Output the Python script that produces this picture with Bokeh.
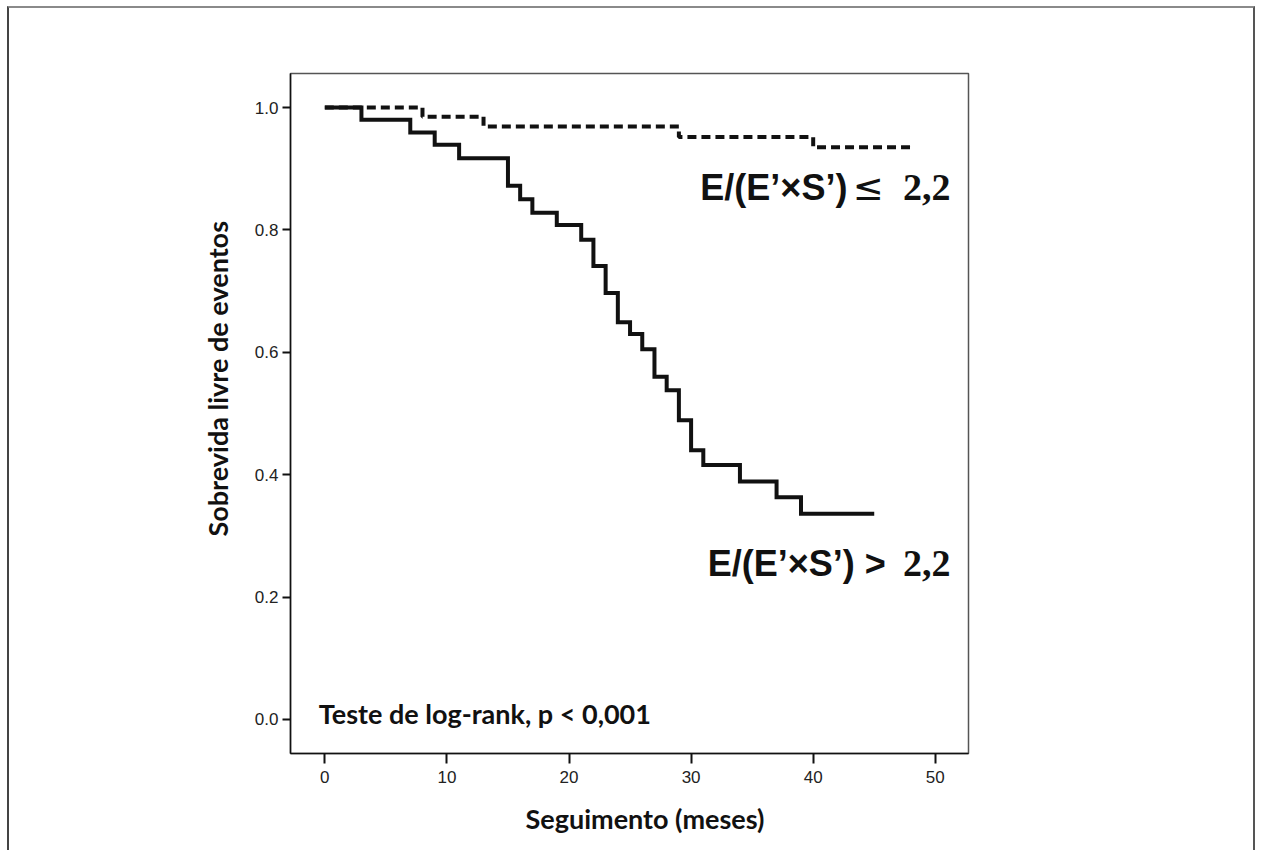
import math
from bokeh.plotting import figure
from bokeh.models import Label, FixedTicker, NumeralTickFormatter, Range1d, Title
from bokeh.embed import file_html
from bokeh.resources import INLINE

# ---- data ----
high_time = [0, 3, 7, 9, 11, 15, 16, 17, 19, 21, 22, 23, 24, 25, 26, 27, 28, 29, 30, 31, 34, 37, 39, 45]
high_surv = [1.0, 0.980, 0.959, 0.939, 0.917, 0.872, 0.850, 0.828, 0.808, 0.784, 0.741, 0.697,
             0.649, 0.630, 0.605, 0.560, 0.538, 0.489, 0.440, 0.416, 0.389, 0.363, 0.336, 0.336]
low_time = [0, 8, 13, 29, 40, 48]
low_surv = [1.0, 0.985, 0.969, 0.952, 0.935, 0.935]

x_ticks = [0, 10, 20, 30, 40, 50]
y_ticks = [0.0, 0.2, 0.4, 0.6, 0.8, 1.0]

label_sans = "E/(E\u2019\u00d7S\u2019)"
label_le = "\u2264"
label_gt = "E/(E\u2019\u00d7S\u2019) >"
label_num = "2,2"
test_text = "Teste de log-rank, p < 0,001"
x_title = "Seguimento (meses)"
y_title = "Sobrevida livre de eventos"

p = figure(width=1248, height=844, output_backend="svg", toolbar_location=None,
           x_range=Range1d(-2.81, 52.72), y_range=Range1d(-0.0556, 1.0556),
           min_border_left=281, min_border_right=289, min_border_top=65, min_border_bottom=99)
p.styles = {"margin-left": "7px", "margin-top": "6px",
            "border-top": "2px solid #8a8a8a", "border-left": "2px solid #444",
            "border-right": "2px solid #555"}

p.xgrid.visible = False
p.ygrid.visible = False
p.outline_line_color = "#555555"
p.outline_line_width = 1.5

for ax in (p.xaxis[0], p.yaxis[0]):
    ax.axis_line_color = "#111111"
    ax.axis_line_width = 1.5
    ax.major_tick_line_color = "#111111"
    ax.major_tick_line_width = 2
    ax.major_tick_in = 0
    ax.minor_tick_line_color = None
    ax.major_label_text_font = "Liberation Sans"
    ax.major_label_text_font_size = "17px"
    ax.major_label_text_color = "#222222"
p.xaxis.ticker = FixedTicker(ticks=x_ticks)
p.yaxis.ticker = FixedTicker(ticks=y_ticks)
p.yaxis.formatter = NumeralTickFormatter(format="0.0")
p.xaxis.major_tick_out = 10
p.yaxis.major_tick_out = 8
p.xaxis.major_label_standoff = 7
p.yaxis.major_label_standoff = 4

# curves
p.step(low_time, low_surv, mode="after", line_color="#111111", line_width=4,
       line_dash="9 5", line_cap="butt")
p.step(high_time, high_surv, mode="after", line_color="#111111", line_width=4,
       line_join="miter")

def lab(x, y, text, font, size, align="left", style="bold"):
    p.add_layout(Label(x=x, y=y, text=text, text_font=font, text_font_size=size,
                       text_font_style=style, text_color="#111111", text_align=align,
                       text_baseline="alphabetic"))

# curve labels
lab(51.25, 0.8693, label_num, "Liberation Serif", "38px", "right")
lab(45.78, 0.8693, label_le, "DejaVu Sans", "37px", "right", "normal")
lab(42.80, 0.8693, label_sans, "Liberation Sans", "36px", "right")
lab(51.25, 0.2556, label_num, "Liberation Serif", "38px", "right")
lab(45.95, 0.2556, label_gt, "Liberation Sans", "36px", "right")

# log-rank annotation
lab(-0.49, 0.0098, test_text, "Lato", "27px", "left")

# axis titles
p.add_layout(Title(text=x_title, text_font="Lato", text_font_size="27px", text_font_style="bold",
                   text_color="#111111", align="left", offset=235, standoff=28), "below")
p.add_layout(Title(text=y_title, text_font="Lato", text_font_size="27px", text_font_style="bold",
                   text_color="#111111", align="left", offset=217, standoff=36), "left")

open("out.html", "w").write(file_html(p, INLINE))
